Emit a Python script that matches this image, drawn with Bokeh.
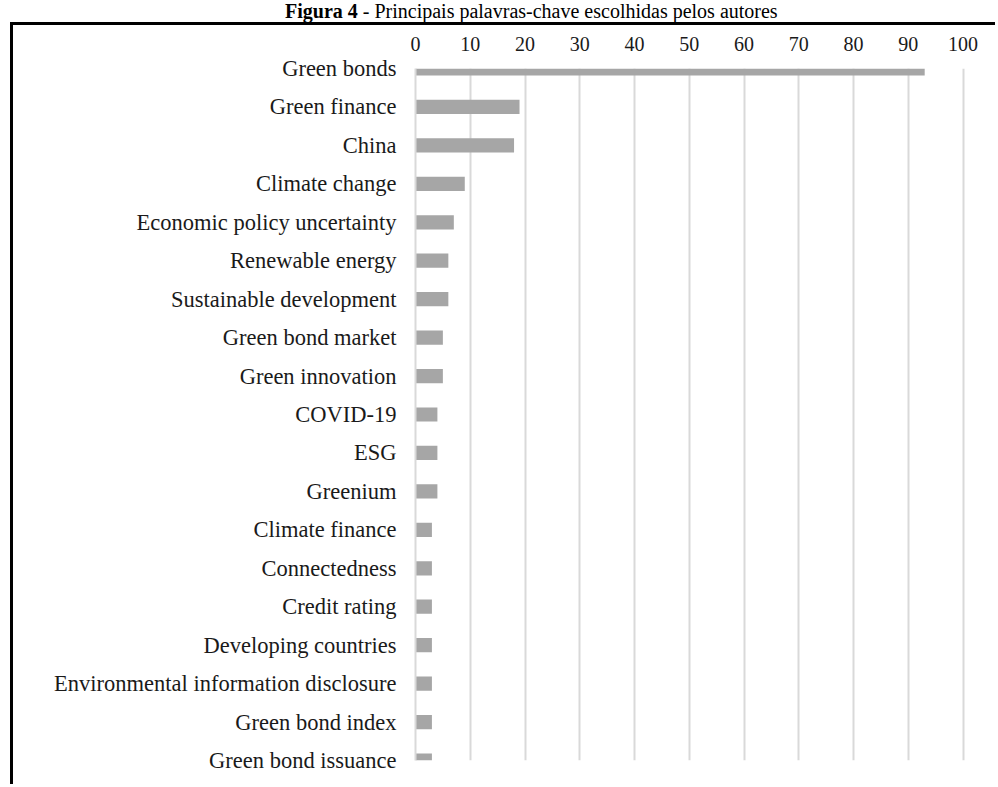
from bokeh.plotting import figure
from bokeh.models import ColumnDataSource, Range1d, FixedTicker, Div
from bokeh.layouts import column
from bokeh.embed import file_html
from bokeh.resources import INLINE

keywords = [
    "Green bonds", "Green finance", "China", "Climate change",
    "Economic policy uncertainty", "Renewable energy", "Sustainable development",
    "Green bond market", "Green innovation", "COVID-19", "ESG", "Greenium",
    "Climate finance", "Connectedness", "Credit rating", "Developing countries",
    "Environmental information disclosure", "Green bond index", "Green bond issuance",
]
counts = [93, 19, 18, 9, 7, 6, 6, 5, 5, 4, 4, 4, 3, 3, 3, 3, 3, 3, 3]
x_ticks = [0, 10, 20, 30, 40, 50, 60, 70, 80, 90, 100]
title_bold = "Figura 4"
title_rest = "- Principais palavras-chave escolhidas pelos autores"

positions = list(range(len(keywords)))
source = ColumnDataSource(dict(pos=positions, count=counts, kw=keywords))

FONT = "Liberation Serif"
W, H = 998, 787
TITLE_H = 22
BOX_X, BORDER = 10, 3
canvas_x0 = BOX_X + BORDER
canvas_y0 = TITLE_H + BORDER
frame_left, frame_top, frame_w, frame_bottom = 415, 68, 553, 760

cw = W - canvas_x0
ch = H - canvas_y0

p = figure(width=cw, height=ch, output_backend="svg", toolbar_location=None,
           x_range=Range1d(0, 101), y_range=Range1d(len(keywords) - 1, 0),
           x_axis_location="above",
           min_border_left=frame_left - canvas_x0,
           min_border_right=cw - (frame_left - canvas_x0) - frame_w,
           min_border_top=frame_top - canvas_y0,
           min_border_bottom=H - frame_bottom)
p.outline_line_color = None
p.background_fill_color = "white"
p.border_fill_color = "white"
p.margin = (0, 0, 0, BOX_X)
p.styles = {"border-top": f"{BORDER}px solid black", "border-left": f"{BORDER}px solid black"}

p.hbar(y="pos", right="count", left=0, height=0.37, source=source,
       fill_color="#a6a6a6", line_color=None)

p.xaxis.ticker = FixedTicker(ticks=x_ticks)
p.xaxis.axis_line_color = None
p.xaxis.major_tick_line_color = None
p.xaxis.minor_tick_line_color = None
p.xaxis.major_label_text_font = FONT
p.xaxis.major_label_text_font_size = "20px"
p.xaxis.major_label_text_color = "#1a1a1a"
p.xaxis.major_label_standoff = 12

p.yaxis.ticker = FixedTicker(ticks=positions)
p.yaxis.major_label_overrides = {i: k for i, k in zip(positions, keywords)}
p.yaxis.axis_line_color = "#d9d9d9"
p.yaxis.axis_line_width = 2
p.yaxis.major_tick_line_color = None
p.yaxis.minor_tick_line_color = None
p.yaxis.major_label_text_font = FONT
p.yaxis.major_label_text_font_size = "22.5px"
p.yaxis.major_label_text_color = "#1a1a1a"
p.yaxis.major_label_standoff = 13

p.xgrid.ticker = FixedTicker(ticks=x_ticks)
p.xgrid.grid_line_color = "#d9d9d9"
p.xgrid.grid_line_width = 2
p.ygrid.grid_line_color = None

serif_css = "font-family:'Liberation Serif', 'Times New Roman', serif;"
title = Div(
    text=(f'<div style="padding-left:285px; {serif_css} font-size:20px; '
          f'line-height:{TITLE_H}px; white-space:nowrap; color:black;">'
          f'<b style="{serif_css}">{title_bold}</b> '
          f'<span style="{serif_css}">{title_rest}</span></div>'),
    width=W, height=TITLE_H, margin=(0, 0, 0, 0),
    styles={"font-family": "'Liberation Serif', serif"})

layout = column(title, p, spacing=0, margin=(0, 0, 0, 0))

open("out.html", "w").write(file_html(layout, INLINE))
